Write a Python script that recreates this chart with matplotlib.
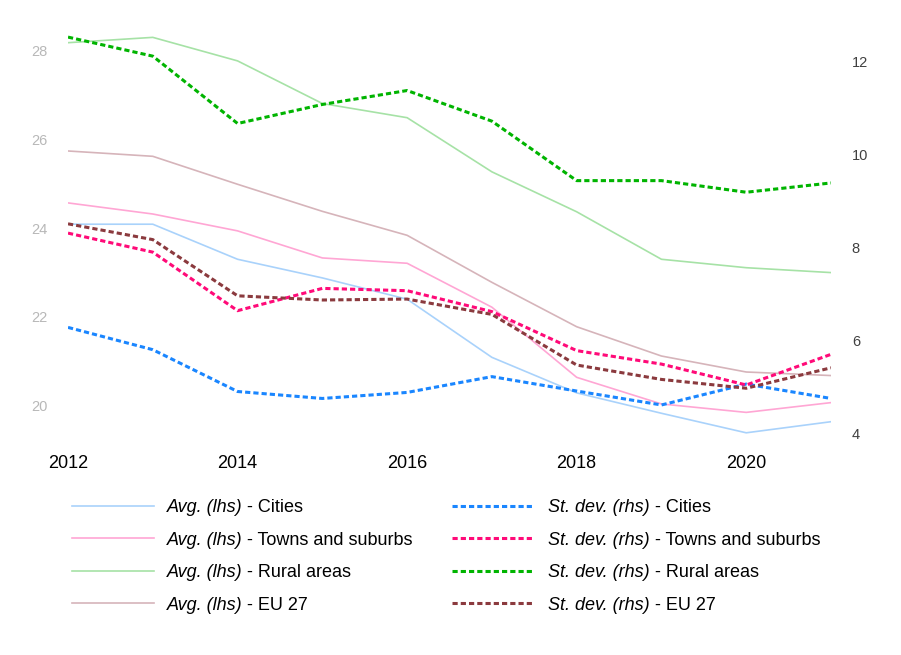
import matplotlib
matplotlib.use("Agg")
import matplotlib.pyplot as plt
from matplotlib.lines import Line2D

plt.rcParams['font.family'] = ['Liberation Sans', 'DejaVu Sans']

years = [2012, 2013, 2014, 2015, 2016, 2017, 2018, 2019, 2020, 2021]

# averages (left axis)
avg_cities = [24.09, 24.09, 23.30, 22.88, 22.40, 21.09, 20.29, 19.83, 19.39, 19.64]
avg_towns = [24.57, 24.32, 23.94, 23.33, 23.21, 22.22, 20.64, 20.04, 19.85, 20.07]
avg_rural = [28.18, 28.30, 27.77, 26.81, 26.49, 25.27, 24.37, 23.30, 23.11, 23.00]
avg_eu = [25.74, 25.62, 24.99, 24.38, 23.84, 22.78, 21.78, 21.12, 20.76, 20.68]

# standard deviations (right axis)
sd_cities = [6.28, 5.80, 4.90, 4.75, 4.88, 5.22, 4.91, 4.61, 5.06, 4.75]
sd_towns = [8.31, 7.90, 6.64, 7.12, 7.07, 6.62, 5.78, 5.49, 5.04, 5.70]
sd_rural = [12.53, 12.12, 10.67, 11.08, 11.38, 10.72, 9.44, 9.44, 9.19, 9.39]
sd_eu = [8.51, 8.17, 6.96, 6.87, 6.89, 6.56, 5.47, 5.16, 4.97, 5.41]

names = ['Cities', 'Towns and suburbs', 'Rural areas', 'EU 27']
avg_colors = ['#a9d2fb', '#ffa6d4', '#a6e2a6', '#d6b4ba']
sd_colors = ['#1a86ff', '#ff0a78', '#00b400', '#8b3a3e']

W, H = 901, 655
fig = plt.figure(figsize=(W / 100, H / 100), dpi=100)
ax = fig.add_axes([0.0755, 0.3206, 0.8468, 0.6336])
ax2 = ax.twinx()

solid_kw = dict(lw=1.2)
dot_kw = dict(lw=2.2, dashes=(1.7, 1.0), dash_capstyle='butt')

for vals, col in zip([avg_cities, avg_towns, avg_rural, avg_eu], avg_colors):
    ax.plot(years, vals, color=col, **solid_kw)
for vals, col in zip([sd_cities, sd_towns, sd_rural, sd_eu], sd_colors):
    ax2.plot(years, vals, color=col, **dot_kw)

ax.set_xlim(2012, 2021)
ax.set_ylim(19.115, 28.466)
ax2.set_ylim(3.748, 12.683)
ax.set_xticks([2012, 2014, 2016, 2018, 2020])
ax.set_yticks([20, 22, 24, 26, 28])
ax2.set_yticks([4, 6, 8, 10, 12])

for a in (ax, ax2):
    for s in a.spines.values():
        s.set_visible(False)
ax.tick_params(axis='x', length=0, pad=7.5, labelsize=13, labelcolor='black')
ax.tick_params(axis='y', length=0, pad=14.5, labelsize=10.5, labelcolor='#b8b8b8')
ax2.tick_params(axis='y', length=0, pad=15, labelsize=10.5, labelcolor='#404040')

# legend drawn by hand: italic prefix + upright suffix
rows = [506, 538.3, 570.6, 603]
renderer = fig.canvas.get_renderer()


def legend_entry(x_line, x_text, y, col, kw, prefix, suffix):
    fig.add_artist(Line2D([x_line / W, (x_line + 82) / W], [1 - y / H, 1 - y / H],
                          transform=fig.transFigure, color=col, **kw))
    t = fig.text(x_text / W, 1 - (y + 6.5) / H, prefix, fontsize=13,
                 style='italic', va='baseline', ha='left')
    bb = t.get_window_extent(renderer)
    fig.text(bb.x1 / W, 1 - (y + 6.5) / H, ' - ' + suffix, fontsize=13,
             va='baseline', ha='left')


for i, nm in enumerate(names):
    legend_entry(72, 166.5, rows[i], avg_colors[i], solid_kw, 'Avg. (lhs)', nm)
    legend_entry(452, 548.5, rows[i], sd_colors[i], dot_kw, 'St. dev. (rhs)', nm)

fig.savefig('out.png', dpi=100)
